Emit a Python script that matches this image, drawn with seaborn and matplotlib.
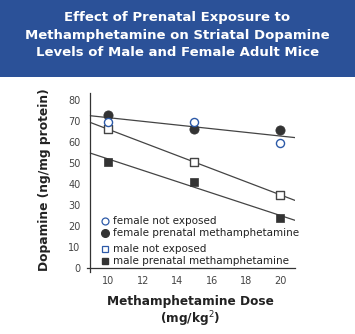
import numpy as np
import pandas as pd
import matplotlib
matplotlib.use("Agg")
import matplotlib.pyplot as plt
import seaborn as sns
from matplotlib.lines import Line2D

doses = [10, 15, 20]
female_not_exposed = [69.5, 69.5, 59.5]
female_prenatal = [73, 66, 65.5]
male_not_exposed = [66, 50.3, 34.8]
male_prenatal = [50.6, 40.8, 23.7]

title = "Effect of Prenatal Exposure to\nMethamphetamine on Striatal Dopamine\nLevels of Male and Female Adult Mice"
ylabel = "Dopamine (ng/mg protein)"
xlabel1 = "Methamphetamine Dose"
xlabel2 = "(mg/kg$^2$)"
yticks = [0, 10, 20, 30, 40, 50, 60, 70, 80]
xticks = [10, 12, 14, 16, 18, 20]

sns.set_style("white")
plt.rcParams["font.family"] = ["DejaVu Sans"]

fig = plt.figure(figsize=(3.55, 3.34), dpi=100)
fig.patch.set_facecolor("white")
# title banner
fig.patches.append(plt.Rectangle((0, 1 - 77 / 334), 1, 77 / 334, transform=fig.transFigure,
                                 facecolor="#2b5198", edgecolor="none", zorder=0))
fig.text(0.5, 1 - 35 / 334, title, ha="center", va="center", color="white",
         fontsize=9.5, fontweight="bold", linespacing=1.5)

ax = fig.add_axes([0.245, 1 - 268 / 334 - 4 / 334, 0.831 - 0.245, (268 - 93 + 4) / 334])
ax.set_facecolor("white")

fem_df = pd.DataFrame({"dose": doses * 2, "da": female_not_exposed + female_prenatal})
mne_df = pd.DataFrame({"dose": doses, "da": male_not_exposed})
mp_df = pd.DataFrame({"dose": doses, "da": male_prenatal})

ax.set_xlim(8.95, 20.85)
ax.set_ylim(-2, 83.3)
line_kw = dict(color="#444444", lw=0.9)
for d in (fem_df, mne_df, mp_df):
    sns.regplot(data=d, x="dose", y="da", ax=ax, ci=None, truncate=False,
                scatter=False, line_kws=line_kw)

ax.set_xlim(8.75, 20.85)
ax.set_ylim(-2, 83.3)

sns.scatterplot(x=doses, y=female_not_exposed, ax=ax, marker="o", s=34,
                facecolor="white", edgecolor="#2d5aa8", linewidth=1.0, zorder=6)
sns.scatterplot(x=doses, y=female_prenatal, ax=ax, marker="o", s=44,
                color="#333333", edgecolor="#333333", zorder=4)
sns.scatterplot(x=doses, y=male_not_exposed, ax=ax, marker="s", s=36,
                facecolor="white", edgecolor="#444444", linewidth=1.0, zorder=5)
sns.scatterplot(x=doses, y=male_prenatal, ax=ax, marker="s", s=38,
                color="#333333", edgecolor="#333333", zorder=5)

for s in ("top", "right"):
    ax.spines[s].set_visible(False)
ax.spines["left"].set_position(("data", 8.95))
ax.spines["bottom"].set_position(("data", 0))
for s in ("left", "bottom"):
    ax.spines[s].set_color("#333333")
    ax.spines[s].set_linewidth(0.9)

ax.set_yticks(yticks)
ax.set_xticks(xticks)
ax.tick_params(length=0, labelsize=7, colors="#444444")
ax.tick_params(axis="x", pad=6)
ax.tick_params(axis="y", pad=7)
ax.set_xlabel("")
ax.set_ylabel("")

fig.text(45 / 355, 1 - 180 / 334, ylabel, rotation=90, ha="center", va="center",
         fontsize=8.8, fontweight="bold", color="#222222")
fig.text(190 / 355, 1 - 301 / 334, xlabel1, ha="center", va="center",
         fontsize=8.7, fontweight="bold", color="#222222")
fig.text(190 / 355, 1 - 319 / 334, xlabel2, ha="center", va="center",
         fontsize=8.7, fontweight="bold", color="#222222")

h1 = [Line2D([], [], ls="", marker="o", mfc="white", mec="#2d5aa8", ms=5, mew=0.9),
      Line2D([], [], ls="", marker="o", mfc="#333333", mec="#333333", ms=5.5)]
h2 = [Line2D([], [], ls="", marker="s", mfc="white", mec="#2d5aa8", ms=4.5, mew=0.9),
      Line2D([], [], ls="", marker="s", mfc="#333333", mec="#333333", ms=4.6)]
leg_kw = dict(frameon=False, fontsize=7.5, handlelength=0.6, handletextpad=0.4,
              labelspacing=0.2, borderpad=0, labelcolor="#222222")
fig.legend(h1, ["female not exposed", "female prenatal methamphetamine"],
           loc="upper left", bbox_to_anchor=(97 / 355, 1 - 211 / 334), **leg_kw)
fig.legend(h2, ["male not exposed", "male prenatal methamphetamine"],
           loc="upper left", bbox_to_anchor=(97 / 355, 1 - 239 / 334), **leg_kw)

fig.savefig("out.png", dpi=100, facecolor="white")
